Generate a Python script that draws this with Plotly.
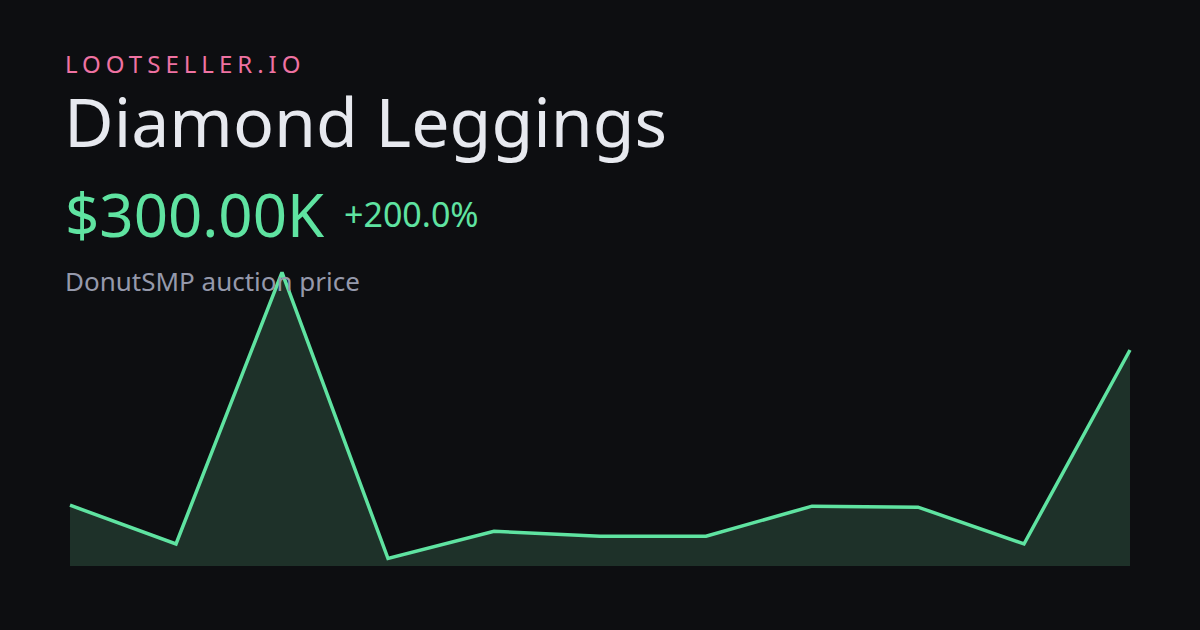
import plotly.graph_objects as go

# Data (prices in thousands of $)
points = list(range(11))
prices_k = [140, 100, 380, 85, 113, 108, 108, 139, 138, 100, 300]

brand = "LOOTSELLER.IO"
title = "Diamond Leggings"
price_label = "$300.00K"
change_label = "+200.0%"
subtitle = "DonutSMP auction price"

BG = "#0d0e11"
LINE = "#5fe3a1"
FILL = "#1e3129"
FONT = "Noto Sans"

W, H = 1200, 630

def py(px):
    return 1 - px / H

fig = go.Figure()
fig.add_trace(go.Scatter(
    x=points, y=prices_k, mode="lines",
    line=dict(color=LINE, width=3.5, shape="linear"),
    fill="tozeroy", fillcolor=FILL, hoverinfo="skip",
))

fig.update_layout(
    width=W, height=H,
    paper_bgcolor=BG, plot_bgcolor=BG,
    margin=dict(l=0, r=0, t=0, b=0),
    showlegend=False,
    xaxis=dict(domain=[60 / W, 1140 / W], range=[-10 / 106, 10 + 10 / 106],
               visible=False, fixedrange=True),
    yaxis=dict(domain=[1 - 566 / H, 1 - 260 / H], range=[77.3, 392.8],
               visible=False, fixedrange=True),
    font=dict(family=FONT),
)

def ann(text, x, ybase, size, color):
    fig.add_annotation(
        text=text, xref="paper", yref="paper", x=x / W, y=py(ybase),
        xanchor="left", yanchor="bottom", showarrow=False,
        font=dict(family=FONT, size=size, color=color),
    )

ann('<span style="letter-spacing:5px">' + brand + '</span>', 63, 82, 24, "#ef72a2")
ann(title, 62, 169, 68, "#e7e9ef")
ann(price_label, 63, 257, 60, LINE)
ann(change_label, 342, 239, 34, LINE)
ann(subtitle, 63, 301, 26, "#9599ab")

fig.write_html(
    "out.html",
    config={"displayModeBar": False, "staticPlot": True},
    post_script="document.body.style.margin='0';document.body.style.background='#0d0e11';",
)
